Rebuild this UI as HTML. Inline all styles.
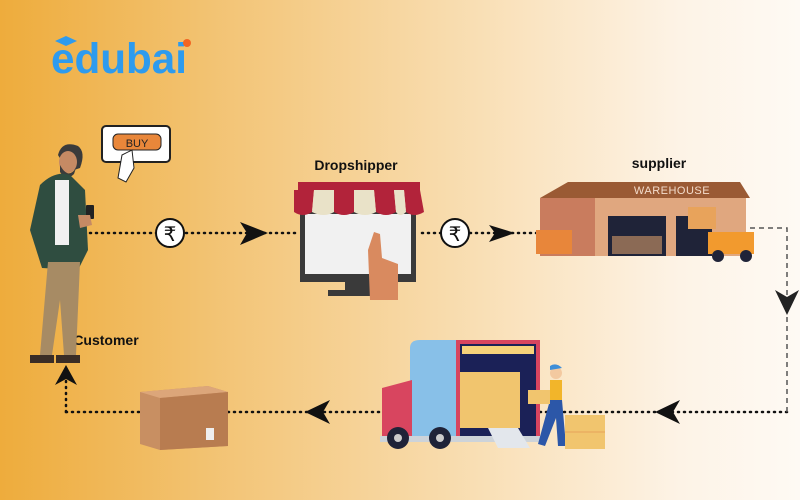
<!DOCTYPE html>
<html><head><style>
html,body{margin:0;padding:0}
body{width:800px;height:500px;overflow:hidden;background:linear-gradient(90deg,#eeac3c 0%,#f3c67a 30%,#f9dfb5 60%,#fdf3e6 85%,#fefaf4 100%);font-family:"Liberation Sans",sans-serif}
</style></head><body>
<svg width="800" height="500" viewBox="0 0 800 500" xmlns="http://www.w3.org/2000/svg" style="position:absolute;left:0;top:0">
<!-- logo -->
<text x="51" y="73" font-family="Liberation Sans" font-weight="bold" font-size="43" fill="#2e9bee" textLength="136" lengthAdjust="spacingAndGlyphs">edubai</text>
<polygon points="55,41 66,36 77,41 66,46" fill="#2e9bee"/>
<circle cx="187" cy="43" r="4" fill="#f26522"/>

<!-- connectors -->
<g stroke="#111" stroke-width="2.5" stroke-dasharray="1 5" stroke-linecap="round" fill="none">
<line x1="90" y1="233" x2="298" y2="233"/>
<line x1="422" y1="233" x2="540" y2="233"/>
<line x1="787" y1="412" x2="66" y2="412"/>
<line x1="66" y1="412" x2="66" y2="380"/>
</g>
<g stroke="#555" stroke-width="1.5" stroke-dasharray="5 4" fill="none">
<polyline points="750,228 787,228 787,412"/>
</g>
<!-- arrowheads -->
<polygon points="240,222 268,233 240,245 247,233" fill="#111"/>
<polygon points="489,225 515,233 489,242 495,233" fill="#111"/>
<polygon points="775,290 787,315 799,290 787,297" fill="#222"/>
<polygon points="680,400 655,412 680,424 673,412" fill="#111"/>
<polygon points="330,400 305,412 330,424 323,412" fill="#111"/>
<polygon points="55,385 66,365 77,385 66,379" fill="#111"/>
<!-- rupee circles -->
<circle cx="170" cy="233" r="14" fill="#fff" stroke="#111" stroke-width="2"/>
<text x="170" y="241" text-anchor="middle" font-size="20" font-family="DejaVu Sans" fill="#111">₹</text>
<circle cx="455" cy="233" r="14" fill="#fff" stroke="#111" stroke-width="2"/>
<text x="455" y="241" text-anchor="middle" font-size="20" font-family="DejaVu Sans" fill="#111">₹</text>

<!-- labels -->
<text x="356" y="170" text-anchor="middle" font-weight="bold" font-size="14" fill="#111">Dropshipper</text>
<text x="659" y="168" text-anchor="middle" font-weight="bold" font-size="14" fill="#111">supplier</text>
<text x="106" y="345" text-anchor="middle" font-weight="bold" font-size="14" fill="#111">Customer</text>

<!-- BUY device -->
<rect x="102" y="126" width="68" height="36" rx="4" fill="#fff" stroke="#222" stroke-width="2"/>
<rect x="113" y="134" width="48" height="16" rx="5" fill="#e9873a" stroke="#222"/>
<text x="137" y="147" text-anchor="middle" font-size="11" fill="#222">BUY</text>
<path d="M118,178 L122,155 L132,150 L134,168 L126,182 Z" fill="#fff" stroke="#222"/>

<!-- person -->
<path d="M58,155 Q62,140 78,146 Q86,152 80,168 L68,172 Z" fill="#3b3b3b"/>
<ellipse cx="68" cy="162" rx="9" ry="11" fill="#c58a64"/>
<path d="M60,165 Q68,180 76,168 L74,174 Q66,182 60,172 Z" fill="#3b3b3b"/>
<path d="M40,185 Q55,170 70,175 L85,190 L88,250 L78,270 L42,268 L30,230 Z" fill="#2f4d40"/>
<rect x="55" y="180" width="14" height="65" fill="#f1f1f1"/>
<path d="M48,262 L80,262 L76,355 L64,355 L60,300 L52,355 L40,355 Z" fill="#a78b64"/>
<rect x="30" y="355" width="24" height="8" fill="#3a2d26"/>
<rect x="56" y="355" width="24" height="8" fill="#3a2d26"/>
<rect x="86" y="205" width="8" height="14" rx="1" fill="#222"/>
<path d="M78,215 L90,215 L92,225 L80,228 Z" fill="#c58a64"/>

<!-- store -->
<rect x="300" y="210" width="116" height="72" fill="#3a3a3a"/>
<rect x="305" y="214" width="106" height="60" fill="#f1f1f1"/>
<rect x="345" y="282" width="26" height="10" fill="#3a3a3a"/>
<rect x="328" y="290" width="60" height="6" fill="#3a3a3a"/>
<rect x="298" y="182" width="122" height="8" fill="#b2233a"/>
<g fill="#b2233a">
<path d="M294,190 L314,190 L312,212 Q303,218 294,212 Z"/>
<path d="M334,190 L354,190 L354,212 Q344,218 334,212 Z"/>
<path d="M374,190 L394,190 L396,212 Q386,218 376,212 Z"/>
<path d="M404,190 L420,190 L424,212 Q414,218 406,212 Z"/>
</g>
<g fill="#e9e2c8">
<path d="M314,190 L334,190 L334,212 Q324,218 312,212 Z"/>
<path d="M354,190 L374,190 L376,212 Q365,218 354,212 Z"/>
<path d="M394,190 L404,190 L406,212 Q400,218 396,212 Z"/>
</g>
<path d="M368,250 L374,232 L380,234 L382,258 L398,264 L398,300 L370,300 Z" fill="#d98a5f"/>

<!-- warehouse -->
<polygon points="540,198 568,182 740,182 750,198" fill="#9a5a34"/>
<rect x="540" y="198" width="206" height="58" fill="#e0a77f"/>
<rect x="540" y="198" width="55" height="58" fill="#c97c5e"/>
<text x="672" y="194" text-anchor="middle" font-size="11" fill="#f3dccb" letter-spacing="0.5">WAREHOUSE</text>
<rect x="608" y="216" width="58" height="40" fill="#1f2338"/>
<rect x="612" y="236" width="50" height="18" fill="#8b6a55"/>
<rect x="676" y="216" width="36" height="40" fill="#1f2338"/>
<rect x="536" y="230" width="36" height="24" fill="#e8863a"/>
<rect x="688" y="207" width="28" height="22" fill="#e8a35b"/>
<rect x="708" y="232" width="46" height="22" fill="#f29a2e"/>
<circle cx="718" cy="256" r="6" fill="#1f2338"/><circle cx="746" cy="256" r="6" fill="#1f2338"/>

<!-- truck -->
<path d="M410,348 Q410,340 420,340 L460,340 L460,440 L410,440 Z" fill="#88c0e8"/>
<rect x="458" y="342" width="80" height="96" fill="#1b2157" stroke="#d8455f" stroke-width="4"/>
<rect x="462" y="346" width="72" height="8" fill="#f6d27a"/>
<rect x="460" y="372" width="60" height="56" fill="#f1c56e"/>
<path d="M382,388 L412,380 L412,440 L382,440 Z" fill="#d8455f"/>
<rect x="380" y="436" width="160" height="6" fill="#cdd3d9"/>
<circle cx="398" cy="438" r="11" fill="#1f2338"/><circle cx="398" cy="438" r="4" fill="#ccc"/>
<circle cx="440" cy="438" r="11" fill="#1f2338"/><circle cx="440" cy="438" r="4" fill="#ccc"/>
<polygon points="488,428 518,428 530,448 498,448" fill="#e3e7ec"/>
<!-- worker -->
<circle cx="556" cy="373" r="6" fill="#f3c9a0"/>
<path d="M550,366 Q556,362 562,368 L550,370 Z" fill="#3f8fd8"/>
<rect x="550" y="380" width="12" height="26" fill="#f2b52a"/>
<path d="M550,400 L562,400 L566,446 L558,446 L556,418 L545,446 L538,444 Z" fill="#2c57a8"/>
<rect x="528" y="390" width="22" height="14" fill="#f1c56e"/>
<rect x="565" y="415" width="40" height="34" fill="#f1c56e"/>
<line x1="565" y1="432" x2="605" y2="432" stroke="#e8a45a"/>
<!-- box -->
<polygon points="140,392 208,386 228,392 228,446 160,450 140,444" fill="#c88f62"/>
<polygon points="140,392 208,386 228,392 160,398" fill="#dca67a"/>
<polygon points="160,398 228,392 228,446 160,450" fill="#b87c50"/>
<rect x="206" y="428" width="8" height="12" fill="#eee"/>
</svg>
</body></html>
